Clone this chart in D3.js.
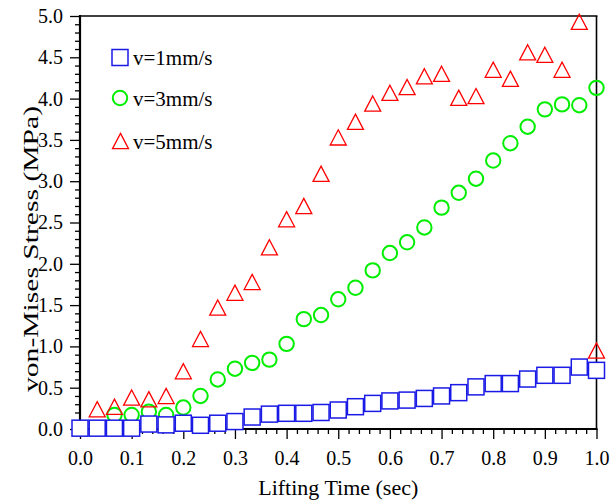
<!DOCTYPE html>
<html>
<head>
<meta charset="utf-8">
<script src="https://cdn.jsdelivr.net/npm/d3@7"></script>
<style>
  html, body { margin: 0; padding: 0; background: #fff; }
  svg { display: block; }
  text { font-family: "Liberation Serif", "Times New Roman", serif; fill: #000; }
</style>
</head>
<body>
<svg id="chart" width="616" height="503"></svg>
<script>
// ---- data ----
const seriesNames = ["v=1mm/s", "v=3mm/s", "v=5mm/s"];
const xTicks = [0, 0.1, 0.2, 0.3, 0.4, 0.5, 0.6, 0.7, 0.8, 0.9, 1.0];
const yTicks = [0, 0.5, 1.0, 1.5, 2.0, 2.5, 3.0, 3.5, 4.0, 4.5, 5.0];

// time points (sec)
const timeV1 = [0, 0.0333, 0.0667, 0.1, 0.1333, 0.1667, 0.2, 0.2333, 0.2667, 0.3, 0.3333, 0.3667, 0.4, 0.4333, 0.4667, 0.5, 0.5333, 0.5667, 0.6, 0.6333, 0.6667, 0.7, 0.7333, 0.7667, 0.8, 0.8333, 0.8667, 0.9, 0.9333, 0.9667, 1.0];
const stressV1 = [0.01, 0.01, 0.01, 0.01, 0.06, 0.05, 0.07, 0.045, 0.07, 0.09, 0.145, 0.18, 0.19, 0.19, 0.20, 0.23, 0.27, 0.31, 0.34, 0.35, 0.37, 0.40, 0.44, 0.51, 0.55, 0.55, 0.605, 0.65, 0.65, 0.75, 0.71];

const timeV3 = [0.0667, 0.1, 0.1333, 0.1667, 0.2, 0.2333, 0.2667, 0.3, 0.3333, 0.3667, 0.4, 0.4333, 0.4667, 0.5, 0.5333, 0.5667, 0.6, 0.6333, 0.6667, 0.7, 0.7333, 0.7667, 0.8, 0.8333, 0.8667, 0.9, 0.9333, 0.9667, 1.0];
const stressV3 = [0.17, 0.17, 0.21, 0.17, 0.26, 0.40, 0.60, 0.73, 0.80, 0.84, 1.03, 1.33, 1.38, 1.57, 1.71, 1.92, 2.13, 2.26, 2.44, 2.68, 2.86, 3.03, 3.25, 3.46, 3.66, 3.87, 3.93, 3.92, 4.13];

const timeV5 = [0.0333, 0.0667, 0.1, 0.1333, 0.1667, 0.2, 0.2333, 0.2667, 0.3, 0.3333, 0.3667, 0.4, 0.4333, 0.4667, 0.5, 0.5333, 0.5667, 0.6, 0.6333, 0.6667, 0.7, 0.7333, 0.7667, 0.8, 0.8333, 0.8667, 0.9, 0.9333, 0.9667, 1.0];
const stressV5 = [0.24, 0.27, 0.38, 0.36, 0.40, 0.70, 1.09, 1.47, 1.65, 1.78, 2.20, 2.54, 2.70, 3.09, 3.53, 3.72, 3.94, 4.07, 4.14, 4.27, 4.30, 4.01, 4.03, 4.35, 4.24, 4.56, 4.53, 4.35, 4.93, 0.95];

// ---- layout ----
const svg = d3.select("#chart");
const pL = 80, pR = 596.5, pT = 16, pB = 429;
const x = d3.scaleLinear().domain([0, 1]).range([pL, pR]);
const y = d3.scaleLinear().domain([0, 5]).range([pB, pT]);

const blue = "#1a1ae6", green = "#00ee00", red = "#ff0000";

// minor ticks
const xMinor = d3.range(0, 1.0001, 0.02).filter(v => Math.abs(Math.round(v * 10) - v * 10) > 1e-6);
const yMinor = d3.range(0, 5.0001, 0.1).filter(v => Math.abs(Math.round(v * 2) - v * 2) > 1e-6);

const gxMinor = svg.append("g").attr("transform", `translate(0,${pB})`)
  .call(d3.axisBottom(x).tickValues(xMinor).tickSize(5).tickFormat(""));
const gyMinor = svg.append("g").attr("transform", `translate(${pL},0)`)
  .call(d3.axisLeft(y).tickValues(yMinor).tickSize(5).tickFormat(""));
[gxMinor, gyMinor].forEach(g => {
  g.select(".domain").remove();
  g.selectAll("line").attr("stroke", "#000").attr("stroke-width", 1.3);
});

const gx = svg.append("g").attr("transform", `translate(0,${pB})`)
  .call(d3.axisBottom(x).tickValues(xTicks).tickSize(10).tickSizeOuter(0).tickPadding(12).tickFormat(d3.format(".1f")));
const gy = svg.append("g").attr("transform", `translate(${pL},0)`)
  .call(d3.axisLeft(y).tickValues(yTicks).tickSize(10).tickSizeOuter(0).tickPadding(7).tickFormat(d3.format(".1f")));
[gx, gy].forEach(g => {
  g.attr("font-family", null);
  g.select(".domain").remove();
  g.selectAll("line").attr("stroke", "#000").attr("stroke-width", 1.3);
  g.selectAll("text").style("font-family", "'Liberation Serif', serif").style("font-size", "20px").attr("fill", "#000");
});

// frame
svg.append("line").attr("x1", pL).attr("x2", pR + 1).attr("y1", pB).attr("y2", pB).attr("stroke", "#000").attr("stroke-width", 2);
svg.append("line").attr("x1", pL).attr("x2", pL).attr("y1", pT - 1).attr("y2", pB + 1).attr("stroke", "#000").attr("stroke-width", 2.2);
svg.append("line").attr("x1", pL).attr("x2", pR + 1).attr("y1", pT).attr("y2", pT).attr("stroke", "#000").attr("stroke-width", 1.6);
svg.append("line").attr("x1", pR).attr("x2", pR).attr("y1", pT).attr("y2", pB + 1).attr("stroke", "#000").attr("stroke-width", 1.6);

// axis titles
svg.append("text").attr("x", (pL + pR) / 2).attr("y", 495).attr("text-anchor", "middle")
  .style("font-size", "22px").text("Lifting Time (sec)");
svg.append("text").attr("transform", "translate(38,249) rotate(-90)").attr("text-anchor", "middle")
  .attr("textLength", 286).attr("lengthAdjust", "spacingAndGlyphs")
  .style("font-size", "22px").text("von-Mises Stress (MPa)");

// markers
const triPath = s => { const h = s * 0.95; return `M0,${-h / 2}L${s / 2},${h / 2}L${-s / 2},${h / 2}Z`; };

const pts5 = timeV5.map((t, i) => ({ t, v: stressV5[i] }));
const pts3 = timeV3.map((t, i) => ({ t, v: stressV3[i] }));
const pts1 = timeV1.map((t, i) => ({ t, v: stressV1[i] }));

svg.append("g").selectAll("circle").data(pts3).join("circle")
  .attr("cx", d => x(d.t)).attr("cy", d => y(d.v)).attr("r", 7.2)
  .attr("fill", "none").attr("stroke", green).attr("stroke-width", 2);

svg.append("g").selectAll("rect").data(pts1).join("rect")
  .attr("x", d => x(d.t) - 8).attr("y", d => y(d.v) - 8).attr("width", 16).attr("height", 16)
  .attr("fill", "#fff").attr("stroke", blue).attr("stroke-width", 1.5);

svg.append("g").selectAll("path").data(pts5).join("path")
  .attr("transform", d => `translate(${x(d.t)},${y(d.v)})`).attr("d", triPath(16))
  .attr("fill", "none").attr("stroke", red).attr("stroke-width", 1.3);

// legend
const lg = svg.append("g");
const lx = 120, rows = [57.5, 98, 141];
lg.append("rect").attr("x", lx - 8).attr("y", rows[0] - 8).attr("width", 16).attr("height", 16)
  .attr("fill", "#fff").attr("stroke", blue).attr("stroke-width", 1.5);
lg.append("circle").attr("cx", lx).attr("cy", rows[1]).attr("r", 7.2)
  .attr("fill", "none").attr("stroke", green).attr("stroke-width", 2);
lg.append("path").attr("transform", `translate(${lx + 0.5},${rows[2]})`).attr("d", triPath(16))
  .attr("fill", "none").attr("stroke", red).attr("stroke-width", 1.3);
seriesNames.forEach((n, i) => {
  lg.append("text").attr("x", 133).attr("y", rows[i] + 7.5).style("font-size", "21px").text(n);
});
</script>
</body>
</html>
